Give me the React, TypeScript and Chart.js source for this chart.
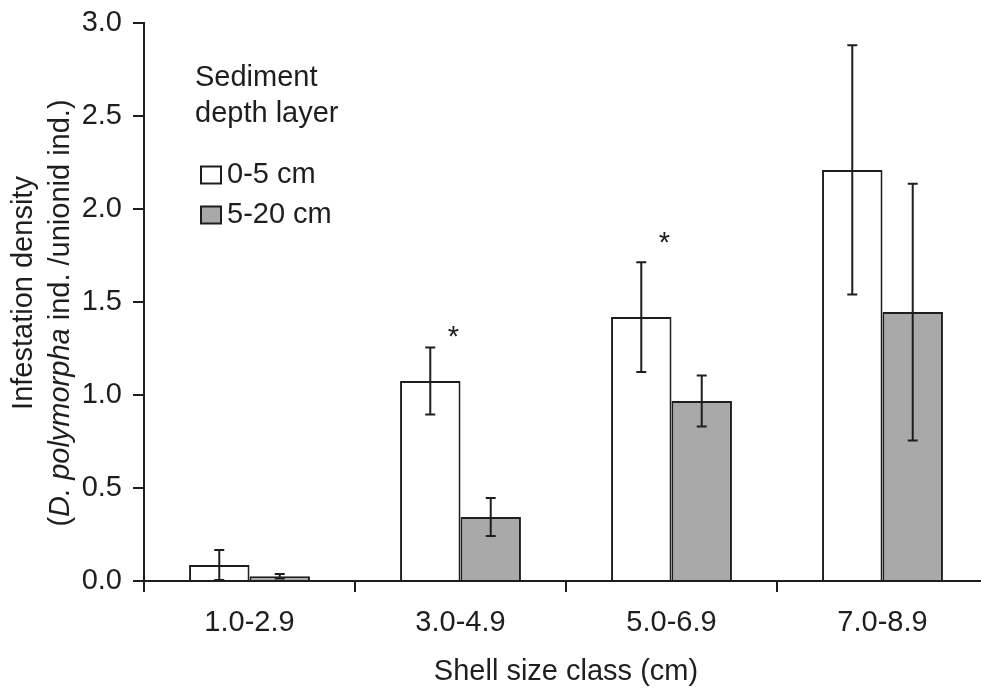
import React, { useEffect, useRef } from 'react';
import { Chart, registerables } from 'chart.js';

Chart.register(...registerables);

// ---- data ----
const categories = ['1.0-2.9', '3.0-4.9', '5.0-6.9', '7.0-8.9'];
const seriesNames = ['0-5 cm', '5-20 cm'];
const shallowMeans = [0.086, 1.075, 1.419, 2.21];
const shallowErrors = [0.081, 0.18, 0.295, 0.67];
const deepMeans = [0.025, 0.344, 0.968, 1.446];
const deepErrors = [0.012, 0.102, 0.137, 0.69];
const asteriskValues: (number | null)[] = [null, 1.35, 1.86, null];
const yMin = 0;
const yMax = 3;
const yStep = 0.5;
const legendTitle = ['Sediment', 'depth layer'];
const xTitle = 'Shell size class (cm)';
const yTitleLine1 = 'Infestation density';
const yTitleLine2 = [
  { text: '(', italic: false },
  { text: 'D. polymorpha', italic: true },
  { text: ' ind. /unionid ind.)', italic: false },
];

const FONT = '"Liberation Sans", Arial, Helvetica, sans-serif';
const FS = 29;
const INK = '#1e1e1e';
const GREY = '#a9a9a9';

const errorsBySeries = [shallowErrors, deepErrors];

const overlayPlugin = {
  id: 'overlay',
  afterDatasetsDraw(chart: any) {
    const ctx: CanvasRenderingContext2D = chart.ctx;
    const ys = chart.scales.y;
    const area = chart.chartArea;
    ctx.save();
    // error bars
    ctx.strokeStyle = INK;
    ctx.lineWidth = 2;
    chart.data.datasets.forEach((ds: any, di: number) => {
      const meta = chart.getDatasetMeta(di);
      const errs = errorsBySeries[di];
      meta.data.forEach((bar: any, i: number) => {
        const v = ds.data[i] as number;
        const e = errs[i];
        const x = bar.x;
        const t = ys.getPixelForValue(v + e);
        const b = ys.getPixelForValue(Math.max(0, v - e));
        const cap = 5;
        ctx.beginPath();
        ctx.moveTo(x, t);
        ctx.lineTo(x, b);
        ctx.moveTo(x - cap, t);
        ctx.lineTo(x + cap, t);
        ctx.moveTo(x - cap, b);
        ctx.lineTo(x + cap, b);
        ctx.stroke();
      });
    });
    // asterisks
    const meta0 = chart.getDatasetMeta(0);
    ctx.fillStyle = INK;
    ctx.font = `${FS}px ${FONT}`;
    ctx.textAlign = 'center';
    ctx.textBaseline = 'alphabetic';
    asteriskValues.forEach((v, i) => {
      if (v == null) return;
      const bar = meta0.data[i];
      const y = ys.getPixelForValue(v);
      ctx.fillText('*', bar.x + 23, y + FS * 0.57);
    });

    // legend
    const lx = area.left + 51;
    ctx.textAlign = 'left';
    ctx.textBaseline = 'middle';
    ctx.font = `${FS}px ${FONT}`;
    ctx.fillText(legendTitle[0], lx, 78);
    ctx.fillText(legendTitle[1], lx, 114);
    chart.data.datasets.forEach((ds: any, di: number) => {
      const cy = 175 + di * 40;
      ctx.fillStyle = ds.backgroundColor;
      ctx.fillRect(lx + 6, cy - 8.5, 20, 17);
      ctx.strokeStyle = INK;
      ctx.lineWidth = 2;
      ctx.strokeRect(lx + 6, cy - 8.5, 20, 17);
      ctx.fillStyle = INK;
      ctx.fillText(ds.label, lx + 32, cy);
    });

    // y title (mixed italic)
    const mid = (area.top + area.bottom) / 2;
    ctx.save();
    ctx.translate(24, mid - 9);
    ctx.rotate(-Math.PI / 2);
    ctx.textAlign = 'center';
    ctx.textBaseline = 'middle';
    ctx.font = `${FS}px ${FONT}`;
    ctx.fillText(yTitleLine1, 0, 0);
    ctx.restore();

    ctx.save();
    ctx.translate(61, mid + 11);
    ctx.rotate(-Math.PI / 2);
    ctx.textAlign = 'left';
    ctx.textBaseline = 'middle';
    let total = 0;
    const widths = yTitleLine2.map((s) => {
      ctx.font = `${s.italic ? 'italic ' : ''}${FS}px ${FONT}`;
      const w = ctx.measureText(s.text).width;
      total += w;
      return w;
    });
    let x = -total / 2;
    yTitleLine2.forEach((s, i) => {
      ctx.font = `${s.italic ? 'italic ' : ''}${FS}px ${FONT}`;
      ctx.fillText(s.text, x, 0);
      x += widths[i];
    });
    ctx.restore();

    ctx.restore();
  },
};

export default function App() {
  const ref = useRef<HTMLCanvasElement>(null);
  useEffect(() => {
    if (!ref.current) return;
    const chart = new Chart(ref.current, {
      type: 'bar',
      data: {
        labels: categories,
        datasets: [
          {
            label: seriesNames[0],
            data: shallowMeans,
            backgroundColor: '#ffffff',
            borderColor: INK,
            borderWidth: 2,
            categoryPercentage: 0.573,
            barPercentage: 1,
          },
          {
            label: seriesNames[1],
            data: deepMeans,
            backgroundColor: GREY,
            borderColor: INK,
            borderWidth: 2,
            categoryPercentage: 0.573,
            barPercentage: 1,
          },
        ],
      },
      options: {
        responsive: false,
        animation: false,
        events: [],
        layout: { padding: { left: 0, right: 2, top: 23, bottom: 0 } },
        plugins: {
          legend: { display: false },
          tooltip: { enabled: false },
        },
        scales: {
          x: {
            type: 'category',
            offset: true,
            z: 1,
            afterFit: (s: any) => {
              s.height = 112;
              s.paddingLeft = 0;
              s.paddingRight = 0;
            },
            grid: {
              offset: true,
              drawOnChartArea: false,
              drawTicks: true,
              tickLength: 11,
              color: INK,
              lineWidth: 2,
            },
            border: { display: true, color: INK, width: 2 },
            ticks: {
              color: INK,
              font: { family: FONT, size: FS },
              padding: 14,
              maxRotation: 0,
            },
            title: {
              display: true,
              text: xTitle,
              color: INK,
              font: { family: FONT, size: FS },
              padding: { top: 0, bottom: 4 },
            },
          },
          y: {
            min: yMin,
            max: yMax,
            z: 1,
            afterFit: (s: any) => {
              s.width = 144;
              s.paddingTop = 0;
              s.paddingBottom = 0;
            },
            grid: {
              drawOnChartArea: false,
              drawTicks: true,
              tickLength: 11,
              color: INK,
              lineWidth: 2,
            },
            border: { display: true, color: INK, width: 2 },
            ticks: {
              stepSize: yStep,
              color: INK,
              font: { family: FONT, size: FS },
              padding: 11,
              callback: (v: any) => Number(v).toFixed(1),
            },
          },
        },
      },
      plugins: [overlayPlugin],
    });
    return () => chart.destroy();
  }, []);

  return (
    <div
      style={{
        position: 'absolute',
        left: 0,
        top: 0,
        width: 981,
        height: 693,
        overflow: 'hidden',
        background: '#fff',
      }}
    >
      <canvas ref={ref} width={990} height={693} style={{ display: 'block' }} />
    </div>
  );
}
